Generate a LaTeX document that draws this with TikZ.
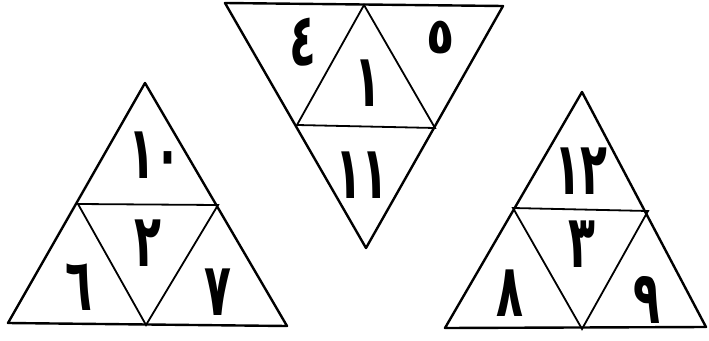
\documentclass[tikz,border=0pt]{standalone}
\usepackage{graphicx}
\usepackage{fontspec}
\newfontfamily\arabicfont[Script=Arabic]{DejaVu Sans}
\newcommand{\tallnum}[1]{\scalebox{1.05}[1.75]{#1}}
\begin{document}
\begin{tikzpicture}[x=1pt,y=-1pt,
  edge/.style={line width=2.4pt,line join=round,line cap=round},
  inner/.style={line width=1.8pt,line cap=round},
  num/.style={font=\arabicfont\bfseries\fontsize{42}{42}\selectfont,inner sep=0pt}]
\useasboundingbox (0,0) rectangle (709,340);
% left triangle
\coordinate (LA) at (145,83);
\coordinate (LB) at (8,323);
\coordinate (LC) at (287,326);
\coordinate (LM1) at (78,204);
\coordinate (LM2) at (218,205);
\coordinate (LM3) at (146,325);
\draw[edge] (LA) -- (LB) -- (LC) -- cycle;
\draw[inner] (LM1) -- (LM2) -- (LM3) -- cycle;
\node[num] (l10) at (155,155) {\tallnum{١٠}};
\node[num] (l2) at (148,243) {\tallnum{٢}};
\node[num] (l6) at (79,287) {\tallnum{٦}};
\node[num] (l7) at (218,292) {\tallnum{٧}};
% top inverted triangle
\coordinate (TA) at (225,3);
\coordinate (TB) at (503,6);
\coordinate (TC) at (366,248);
\coordinate (TM1) at (364,5);
\coordinate (TM2) at (297,125);
\coordinate (TM3) at (435,128);
\draw[edge] (TA) -- (TB) -- (TC) -- cycle;
\draw[inner] (TM1) -- (TM2) -- (TM3) -- cycle;
\node[num] (t4) at (303,42) {\tallnum{٤}};
\node[num] (t5) at (441,38) {\scalebox{1.1}[1.2]{٥}};
\node[num] (t1) at (368,83) {\tallnum{١}};
\node[num] (t11) at (362,175) {\tallnum{١١}};
% right triangle
\coordinate (RA) at (582,92);
\coordinate (RB) at (445,328);
\coordinate (RC) at (706,327);
\coordinate (RM1) at (513,208);
\coordinate (RM2) at (648,211);
\coordinate (RM3) at (582,329);
\draw[edge] (RA) -- (RB) -- (RC) -- cycle;
\draw[inner] (RM1) -- (RM2) -- (RM3) -- cycle;
\node[num] (r12) at (581,171) {\tallnum{١٢}};
\node[num] (r3) at (582,244) {\tallnum{٣}};
\node[num] (r8) at (510,293) {\tallnum{٨}};
\node[num] (r9) at (647,300) {\tallnum{٩}};
\end{tikzpicture}
\end{document}
